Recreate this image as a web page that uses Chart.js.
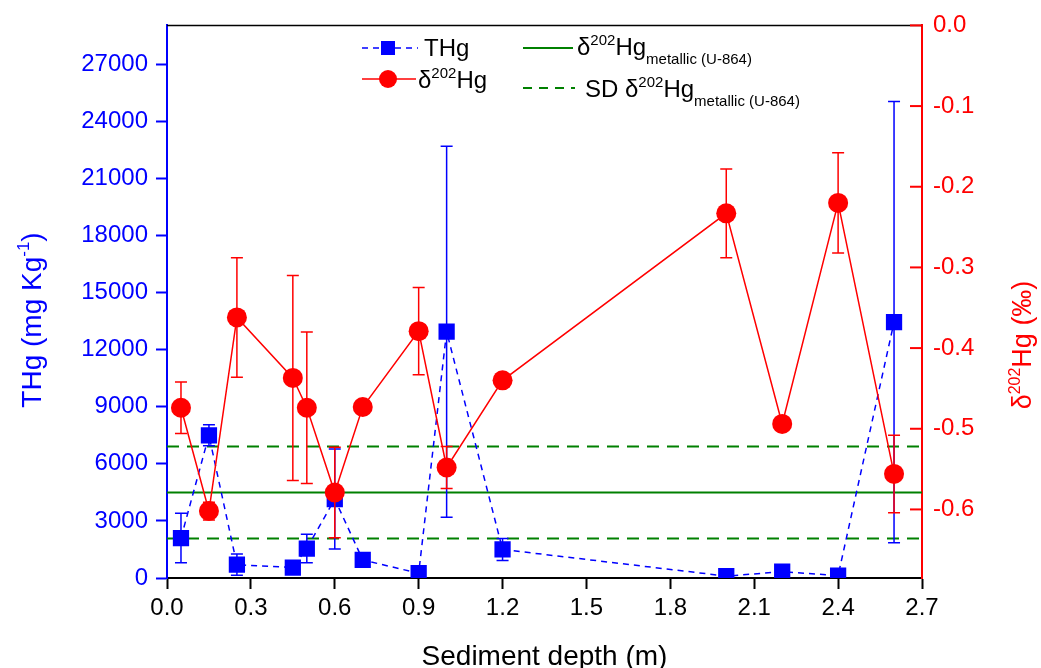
<!DOCTYPE html>
<html>
<head>
<meta charset="utf-8">
<script src="https://cdn.jsdelivr.net/npm/chart.js@4.4.1/dist/chart.umd.min.js"></script>
<style>
  html, body { margin: 0; padding: 0; background: #ffffff; }
  #wrap { width: 1041px; height: 668px; position: relative; }
</style>
</head>
<body>
<div id="wrap"><canvas id="c" width="1041" height="668"></canvas></div>
<script>
// Sampling depths (m)
const depth = [0.05, 0.15, 0.25, 0.45, 0.50, 0.60, 0.70, 0.90, 1.00, 1.20, 2.00, 2.20, 2.40, 2.60];
// Total mercury (mg/kg) and its standard deviation
const thg    = [2100, 7500, 700, 550, 1550, 4150, 950, 250, 12950, 1500, 100, 330, 130, 13450];
const thgErr = [1300, 550, 560, 0, 750, 2630, 0, 0, 9750, 580, 0, 0, 0, 11600];
// delta-202 Hg (permil) and its standard deviation
const d202    = [-0.474, -0.602, -0.362, -0.437, -0.474, -0.579, -0.473, -0.379, -0.548, -0.440, -0.233, -0.494, -0.220, -0.556];
const d202Err = [0.032, 0.011, 0.074, 0.127, 0.094, 0.056, 0, 0.054, 0.026, 0, 0.055, 0, 0.062, 0.048];
// Metallic Hg reference (U-864): mean and SD
const metallicMean = -0.579;
const metallicSD = 0.057;
// Axis ticks
const depthTicks = [0, 0.3, 0.6, 0.9, 1.2, 1.5, 1.8, 2.1, 2.4, 2.7];
const thgTicks = [0, 3000, 6000, 9000, 12000, 15000, 18000, 21000, 24000, 27000];
const d202Ticks = [-0.6, -0.5, -0.4, -0.3, -0.2, -0.1, 0.0];

const FAMILY = '"Liberation Sans", Arial, Helvetica, sans-serif';
const BLUE = '#0000ff', RED = '#ff0000', GREEN = '#008000';
const THG_DASH = [6, 5];
const SD_DASH = [12, 8];

const pts = (xs, ys) => xs.map((x, i) => ({ x: x, y: ys[i] }));
const flat = (v) => [{ x: 0, y: v }, { x: 2.7, y: v }];

// Draw mixed-size text runs (super/subscripts) starting at x, baseline y
function runsWidth(ctx, runs) {
  let w = 0;
  for (const r of runs) { ctx.font = r.size + 'px ' + FAMILY; w += ctx.measureText(r.text).width; }
  return w;
}
function drawRuns(ctx, runs, x, y) {
  let cx = x;
  for (const r of runs) {
    ctx.font = r.size + 'px ' + FAMILY;
    ctx.fillText(r.text, cx, y + (r.dy || 0));
    cx += ctx.measureText(r.text).width;
  }
}

// Vertical error bars, drawn just before their own dataset
const errorBars = {
  id: 'errorBars',
  beforeDatasetDraw(chart, args) {
    const ds = chart.data.datasets[args.index];
    if (!ds.errors) return;
    const ctx = chart.ctx;
    const xs = chart.scales.x, ys = chart.scales[ds.yAxisID];
    ctx.save();
    ctx.strokeStyle = ds.borderColor;
    ctx.lineWidth = 1.5;
    ctx.setLineDash([]);
    ds.data.forEach((p, i) => {
      const e = ds.errors[i];
      if (!e) return;
      const px = xs.getPixelForValue(p.x);
      const top = ys.getPixelForValue(p.y + e);
      const bot = ys.getPixelForValue(p.y - e);
      ctx.beginPath();
      ctx.moveTo(px, top); ctx.lineTo(px, bot);
      ctx.moveTo(px - 6, top); ctx.lineTo(px + 6, top);
      ctx.moveTo(px - 6, bot); ctx.lineTo(px + 6, bot);
      ctx.stroke();
    });
    ctx.restore();
  }
};

// Frame top, inward ticks of the right axis, axis titles and the legend
const decorations = {
  id: 'decorations',
  afterDraw(chart) {
    const ctx = chart.ctx;
    const a = chart.chartArea;
    const r = chart.scales.y2;
    ctx.save();
    // top frame
    ctx.strokeStyle = '#000'; ctx.lineWidth = 1.5;
    ctx.beginPath(); ctx.moveTo(a.left, a.top); ctx.lineTo(a.right, a.top); ctx.stroke();
    // right axis ticks point into the plot
    ctx.strokeStyle = RED; ctx.lineWidth = 2;
    r.ticks.forEach(t => {
      const py = r.getPixelForValue(t.value);
      ctx.beginPath(); ctx.moveTo(a.right - 12, py); ctx.lineTo(a.right, py); ctx.stroke();
    });

    ctx.textBaseline = 'alphabetic';
    ctx.textAlign = 'left';
    // x title
    ctx.fillStyle = '#000';
    const xt = [{ text: 'Sediment depth (m)', size: 28 }];
    drawRuns(ctx, xt, (a.left + a.right) / 2 - runsWidth(ctx, xt) / 2, 665);

    // left title
    const lt = [{ text: 'THg (mg Kg', size: 28 }, { text: '-1', size: 17, dy: -12 }, { text: ')', size: 28 }];
    ctx.save();
    ctx.translate(31, 320); ctx.rotate(-Math.PI / 2);
    ctx.fillStyle = BLUE;
    drawRuns(ctx, lt, -runsWidth(ctx, lt) / 2, 10);
    ctx.restore();

    // right title
    const rt = [{ text: 'δ', size: 27 }, { text: '202', size: 16, dy: -11 }, { text: 'Hg (‰)', size: 27 }];
    ctx.save();
    ctx.translate(1021, 345); ctx.rotate(-Math.PI / 2);
    ctx.fillStyle = RED;
    drawRuns(ctx, rt, -runsWidth(ctx, rt) / 2, 10);
    ctx.restore();

    // legend
    // THg
    ctx.strokeStyle = BLUE; ctx.lineWidth = 1.5; ctx.setLineDash(THG_DASH);
    ctx.beginPath(); ctx.moveTo(362, 48); ctx.lineTo(418, 48); ctx.stroke();
    ctx.setLineDash([]);
    ctx.fillStyle = BLUE; ctx.fillRect(381, 41, 14, 14);
    ctx.fillStyle = '#000';
    drawRuns(ctx, [{ text: 'THg', size: 24 }], 424, 56);
    // delta202Hg
    ctx.strokeStyle = RED; ctx.lineWidth = 1.5;
    ctx.beginPath(); ctx.moveTo(362, 79); ctx.lineTo(416, 79); ctx.stroke();
    ctx.fillStyle = RED; ctx.beginPath(); ctx.arc(388, 79, 9, 0, Math.PI * 2); ctx.fill();
    ctx.fillStyle = '#000';
    drawRuns(ctx, [{ text: 'δ', size: 24 }, { text: '202', size: 15, dy: -10 }, { text: 'Hg', size: 24 }], 418, 88);
    // metallic mean
    ctx.strokeStyle = GREEN; ctx.lineWidth = 2;
    ctx.beginPath(); ctx.moveTo(523, 48); ctx.lineTo(573, 48); ctx.stroke();
    drawRuns(ctx, [{ text: 'δ', size: 24 }, { text: '202', size: 15, dy: -10 }, { text: 'Hg', size: 24 },
                   { text: 'metallic (U-864)', size: 15, dy: 9 }], 577, 55);
    // metallic SD
    ctx.setLineDash([9, 7]);
    ctx.beginPath(); ctx.moveTo(523, 88); ctx.lineTo(575, 88); ctx.stroke();
    ctx.setLineDash([]);
    drawRuns(ctx, [{ text: 'SD δ', size: 24 }, { text: '202', size: 15, dy: -10 }, { text: 'Hg', size: 24 },
                   { text: 'metallic (U-864)', size: 15, dy: 9 }], 585, 97);
    ctx.restore();
  }
};

const tickFont = { family: FAMILY, size: 24 };

new Chart(document.getElementById('c'), {
  type: 'line',
  data: {
    datasets: [
      {
        label: 'δ202Hg', data: pts(depth, d202), errors: d202Err, yAxisID: 'y2', order: 1,
        borderColor: RED, backgroundColor: RED, borderWidth: 1.5,
        pointStyle: 'circle', pointRadius: 10, pointHoverRadius: 10, pointBorderWidth: 0
      },
      {
        label: 'THg', data: pts(depth, thg), errors: thgErr, yAxisID: 'y', order: 2,
        borderColor: BLUE, backgroundColor: BLUE, borderWidth: 1.5, borderDash: THG_DASH,
        pointStyle: 'rect', pointRadius: 11.5, pointHoverRadius: 11.5, pointBorderWidth: 0
      },
      {
        label: 'metallic', data: flat(metallicMean), yAxisID: 'y2', order: 3,
        borderColor: GREEN, borderWidth: 2, pointRadius: 0
      },
      {
        label: 'SD+', data: flat(metallicMean + metallicSD), yAxisID: 'y2', order: 3,
        borderColor: GREEN, borderWidth: 2, borderDash: SD_DASH, pointRadius: 0
      },
      {
        label: 'SD-', data: flat(metallicMean - metallicSD), yAxisID: 'y2', order: 3,
        borderColor: GREEN, borderWidth: 2, borderDash: SD_DASH, pointRadius: 0
      }
    ]
  },
  options: {
    responsive: false,
    animation: false,
    devicePixelRatio: 1,
    layout: { padding: { top: 25, left: 0, right: 0, bottom: 0 } },
    plugins: { legend: { display: false }, tooltip: { enabled: false } },
    scales: {
      x: {
        type: 'linear', position: 'bottom', min: 0, max: 2.7,
        afterBuildTicks: s => { s.ticks = depthTicks.map(v => ({ value: v })); },
        afterFit: s => { s.height = 90; },
        border: { color: '#000', width: 2 },
        grid: { drawOnChartArea: false, drawTicks: true, tickLength: 11, tickColor: '#000', tickWidth: 2 },
        ticks: { color: '#000', font: tickFont, padding: 5, autoSkip: false, maxRotation: 0,
                 callback: v => Number(v).toFixed(1) }
      },
      y: {
        type: 'linear', position: 'left', min: 0, max: 29050,
        afterBuildTicks: s => { s.ticks = thgTicks.map(v => ({ value: v })); },
        afterFit: s => { s.width = 167; },
        border: { color: BLUE, width: 2 },
        grid: { drawOnChartArea: false, drawTicks: true, tickLength: 11, tickColor: BLUE, tickWidth: 2 },
        ticks: { color: BLUE, font: tickFont, padding: 8, autoSkip: false, callback: v => String(v) }
      },
      y2: {
        type: 'linear', position: 'right', min: -0.685, max: 0,
        afterBuildTicks: s => { s.ticks = d202Ticks.map(v => ({ value: v })); },
        afterFit: s => { s.width = 119; },
        border: { color: RED, width: 2 },
        grid: { drawOnChartArea: false, drawTicks: false },
        ticks: { color: RED, font: tickFont, padding: 11, autoSkip: false,
                 callback: v => Number(v).toFixed(1) }
      }
    }
  },
  plugins: [errorBars, decorations]
});
</script>
</body>
</html>
